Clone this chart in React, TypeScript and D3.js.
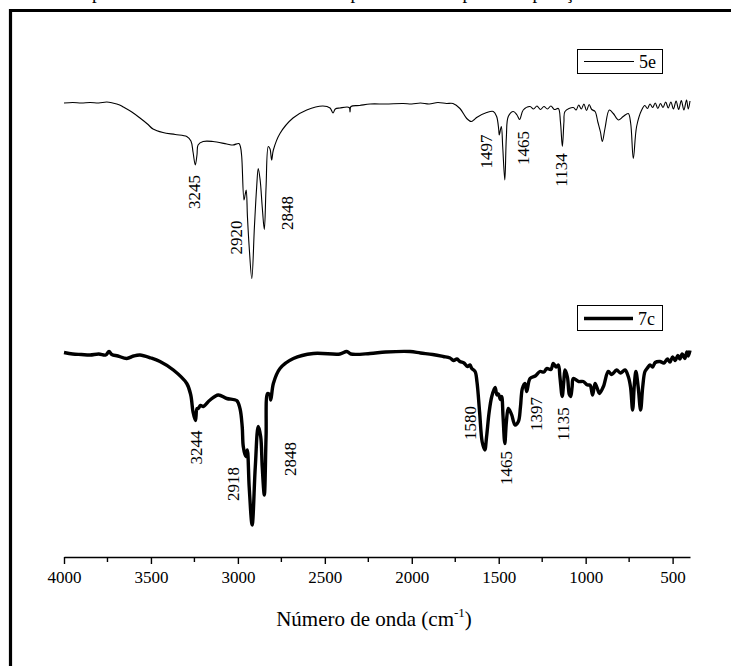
import React, { useEffect, useRef } from "react";
import * as d3 from "d3";

// FTIR spectra: wavenumber (cm-1) vs. transmittance (arbitrary units, offset per sample)
const series5e: [number, number][] = [
  [4000, 90.8], [3950, 90.9], [3900, 90.8], [3850, 90.9], [3800, 90.8], [3754, 91.0], [3720, 90.8],
  [3680, 90.4], [3659, 90.0], [3610, 89.0], [3563, 87.8], [3520, 86.6], [3488, 85.6], [3431, 84.9],
  [3360, 84.5], [3294, 84.1], [3270, 83.2], [3258, 81.0], [3245, 78.4], [3235, 80.5], [3229, 82.4],
  [3200, 83.1], [3143, 83.1], [3064, 82.6], [3028, 82.4], [2994, 82.7], [2985, 82.0], [2978, 80.1],
  [2965, 71.4], [2958, 72.5], [2952, 73.4], [2945, 68.0], [2935, 62.0], [2920, 55.7], [2905, 66.0],
  [2892, 74.0], [2883, 77.7], [2872, 75.4], [2860, 70.0], [2848, 65.5], [2838, 74.0], [2825, 82.1],
  [2815, 81.6], [2806, 79.4], [2796, 81.4], [2758, 84.7], [2683, 87.8], [2604, 89.4], [2511, 90.2],
  [2470, 89.8], [2453, 88.8], [2440, 89.6], [2413, 89.8], [2360, 89.9], [2355, 89.0], [2350, 90.1],
  [2300, 90.3], [2240, 90.6], [2150, 90.6], [2050, 90.7], [2000, 90.6], [1950, 90.8], [1900, 90.6],
  [1850, 90.9], [1800, 90.7], [1763, 90.7], [1723, 89.7], [1684, 87.7], [1659, 87.1], [1640, 87.5],
  [1627, 87.9], [1569, 88.9], [1531, 89.1], [1512, 88.1], [1500, 85.5], [1497, 84.4], [1485, 86.1],
  [1477, 82.0], [1465, 75.4], [1456, 84.0], [1445, 88.1], [1416, 89.1], [1395, 88.4], [1380, 87.5],
  [1359, 89.4], [1320, 90.1], [1300, 89.6], [1280, 90.2], [1260, 89.5], [1240, 90.1], [1220, 89.6],
  [1200, 90.2], [1180, 89.5], [1157, 89.7], [1145, 87.0], [1134, 82.1], [1125, 87.0], [1119, 89.1],
  [1071, 89.9], [1055, 89.4], [1040, 90.4], [1025, 89.6], [1010, 90.6], [995, 89.3], [980, 90.5],
  [965, 89.5], [946, 89.1], [930, 87.0], [915, 85.0], [904, 83.1], [889, 85.7], [864, 89.4],
  [841, 88.7], [812, 87.4], [784, 88.1], [755, 88.7], [741, 86.7], [726, 79.7], [707, 86.1],
  [678, 89.4], [660, 90.3], [645, 89.7], [630, 90.6], [615, 89.9], [600, 90.8], [585, 89.7],
  [570, 90.7], [555, 89.9], [540, 91.0], [525, 89.8], [510, 91.0], [495, 89.6], [480, 91.2],
  [465, 89.5], [450, 91.3], [435, 89.4], [420, 91.4], [410, 89.6], [400, 91.2],
];

const series7c: [number, number][] = [
  [4000, 40.9], [3950, 40.6], [3900, 40.5], [3850, 40.4], [3800, 40.6], [3760, 40.4], [3741, 41.1],
  [3725, 40.5], [3690, 40.2], [3639, 39.7], [3600, 40.2], [3563, 40.4], [3500, 39.8], [3448, 39.1],
  [3371, 37.4], [3294, 34.7], [3271, 32.4], [3258, 29.0], [3244, 27.3], [3235, 29.7], [3228, 29.7],
  [3215, 30.3], [3199, 30.1], [3160, 31.4], [3113, 32.4], [3064, 31.7], [3007, 31.3], [2988, 29.7],
  [2975, 26.0], [2969, 22.1], [2955, 20.1], [2946, 21.4], [2935, 14.0], [2918, 6.4], [2900, 18.0],
  [2883, 26.1], [2869, 24.1], [2860, 18.0], [2848, 12.4], [2838, 24.0], [2829, 32.7], [2818, 32.5],
  [2811, 31.4], [2796, 34.7], [2758, 37.7], [2681, 39.7], [2566, 40.7], [2413, 40.6], [2374, 41.1],
  [2350, 40.6], [2240, 40.7], [2150, 41.0], [2010, 41.1], [1950, 40.8], [1880, 40.5], [1819, 40.1],
  [1780, 39.8], [1760, 39.3], [1740, 39.6], [1723, 39.1], [1700, 38.8], [1680, 38.1], [1665, 38.4],
  [1655, 37.7], [1636, 37.1], [1625, 35.0], [1610, 29.0], [1595, 23.0], [1580, 21.4], [1570, 24.0],
  [1555, 29.0], [1540, 32.1], [1521, 33.9], [1510, 32.4], [1502, 32.6], [1490, 31.5], [1483, 32.1],
  [1475, 28.0], [1465, 22.7], [1456, 27.0], [1445, 29.7], [1435, 29.2], [1425, 28.4], [1406, 26.4],
  [1387, 27.1], [1375, 30.0], [1364, 33.7], [1349, 34.7], [1339, 33.1], [1320, 35.7], [1290, 36.2],
  [1263, 37.1], [1240, 37.0], [1224, 37.7], [1200, 37.5], [1186, 38.7], [1170, 38.0], [1157, 38.4],
  [1148, 36.0], [1135, 32.1], [1126, 35.0], [1119, 37.4], [1105, 36.0], [1094, 32.5], [1086, 32.1],
  [1078, 34.0], [1071, 35.7], [1040, 35.1], [1014, 35.1], [990, 34.4], [975, 34.4], [960, 32.4],
  [946, 34.7], [930, 33.4], [921, 32.7], [898, 34.1], [870, 37.1], [850, 36.5], [822, 37.4],
  [800, 36.8], [774, 37.4], [755, 36.1], [742, 34.0], [730, 29.4], [720, 34.5], [711, 37.1],
  [698, 34.0], [684, 29.4], [672, 34.0], [659, 37.1], [645, 37.8], [630, 38.4], [615, 38.0],
  [600, 38.9], [573, 39.1], [550, 38.8], [530, 39.6], [515, 39.0], [500, 40.0], [485, 39.3],
  [470, 40.3], [458, 39.6], [445, 40.6], [430, 39.7], [418, 41.0], [410, 40.2], [400, 41.3],
];

// Band annotations: label text, label centre (wavenumber, transmittance)
const peaks5e: { label: string; x: number; y: number }[] = [
  { label: "3245", x: 3247, y: 73.0 },
  { label: "2920", x: 3007, y: 63.9 },
  { label: "2848", x: 2712, y: 68.8 },
  { label: "1497", x: 1569, y: 81.1 },
  { label: "1465", x: 1360, y: 81.8 },
  { label: "1134", x: 1138, y: 77.4 },
];

const peaks7c: { label: string; x: number; y: number }[] = [
  { label: "3244", x: 3237, y: 21.9 },
  { label: "2918", x: 3028, y: 14.6 },
  { label: "2848", x: 2700, y: 19.6 },
  { label: "1580", x: 1665, y: 26.8 },
  { label: "1465", x: 1454, y: 17.8 },
  { label: "1397", x: 1282, y: 28.6 },
  { label: "1135", x: 1129, y: 26.6 },
];

const majorTicks = [4000, 3500, 3000, 2500, 2000, 1500, 1000, 500];
const minorTicks = [3750, 3250, 2750, 2250, 1750, 1250, 750];

const W = 731;
const H = 666;
const FONT = "'Liberation Serif', 'Times New Roman', serif";

export default function App() {
  const axisRef = useRef<SVGGElement>(null);

  const x = d3.scaleLinear().domain([4000, 400]).range([64, 690]);
  const y = d3.scaleLinear().domain([0, 100]).range([557, 57]);
  const axisY = 557;

  const line = d3
    .line<[number, number]>()
    .x((d) => x(d[0]))
    .y((d) => y(d[1]))
    .curve(d3.curveCatmullRom.alpha(0.5));

  useEffect(() => {
    if (!axisRef.current) return;
    const g = d3.select(axisRef.current);
    g.selectAll("*").remove();
    g.call(
      d3
        .axisBottom(x)
        .tickValues(majorTicks)
        .tickSize(7)
        .tickSizeOuter(0)
        .tickPadding(7)
        .tickFormat((d) => String(d))
    );
    g.attr("font-family", FONT);
    g.select(".domain").attr("stroke", "#000").attr("stroke-width", 1.6);
    g.selectAll(".tick line").attr("stroke", "#000").attr("stroke-width", 1.4);
    g.selectAll(".tick text")
      .attr("fill", "#000")
      .attr("font-family", FONT)
      .attr("font-size", 17);
    const minor = g.append("g");
    minorTicks.forEach((t) => {
      minor
        .append("line")
        .attr("x1", x(t))
        .attr("x2", x(t))
        .attr("y1", 0)
        .attr("y2", 5)
        .attr("stroke", "#000")
        .attr("stroke-width", 1.4);
    });
  }, []);

  const peakLabel = (p: { label: string; x: number; y: number }, k: string) => (
    <text
      key={k}
      transform={`translate(${x(p.x)},${y(p.y)}) rotate(-90)`}
      textAnchor="middle"
      dominantBaseline="central"
      fontFamily={FONT}
      fontSize={17}
      fill="#000"
    >
      {p.label}
    </text>
  );

  return (
    <svg
      width={W}
      height={H}
      viewBox={`0 0 ${W} ${H}`}
      style={{ position: "absolute", left: 0, top: 0, background: "#fff" }}
    >
      <rect x={0} y={0} width={W} height={H} fill="#fff" />
      {/* caption line running above the frame */}
      <text x={73} y={-1.5} fontFamily={FONT} fontSize={19} fill="#000">
        Espectros de infravermelho dos compostos 5e e 7c para comparação
      </text>
      {/* frame */}
      <path d={`M10.5,${H + 10} V10.5 H${W + 10}`} fill="none" stroke="#000" strokeWidth={3.2} />

      <path d={line(series5e) ?? ""} fill="none" stroke="#000" strokeWidth={1.1} strokeLinejoin="round" />
      <path d={line(series7c) ?? ""} fill="none" stroke="#000" strokeWidth={3.4} strokeLinejoin="round" />

      {peaks5e.map((p, i) => peakLabel(p, `a${i}`))}
      {peaks7c.map((p, i) => peakLabel(p, `b${i}`))}

      {/* legends */}
      <g>
        <rect x={577.5} y={49.5} width={85} height={24} fill="#fff" stroke="#000" strokeWidth={1} />
        <line x1={584} x2={634} y1={61.5} y2={61.5} stroke="#000" strokeWidth={1} />
        <text x={639} y={61.5} dominantBaseline="central" fontFamily={FONT} fontSize={18} fill="#000">
          5e
        </text>
      </g>
      <g>
        <rect x={577.5} y={305.5} width={85} height={25} fill="#fff" stroke="#000" strokeWidth={1} />
        <line x1={584} x2={633} y1={318.5} y2={318.5} stroke="#000" strokeWidth={3.4} />
        <text x={638} y={318.5} dominantBaseline="central" fontFamily={FONT} fontSize={18} fill="#000">
          7c
        </text>
      </g>

      <g ref={axisRef} transform={`translate(0,${axisY})`} />

      <text x={374} y={626} textAnchor="middle" fontFamily={FONT} fontSize={21} fill="#000">
        Número de onda (cm
        <tspan fontSize={13} dy={-9}>-1</tspan>
        <tspan dy={9}>)</tspan>
      </text>
    </svg>
  );
}
